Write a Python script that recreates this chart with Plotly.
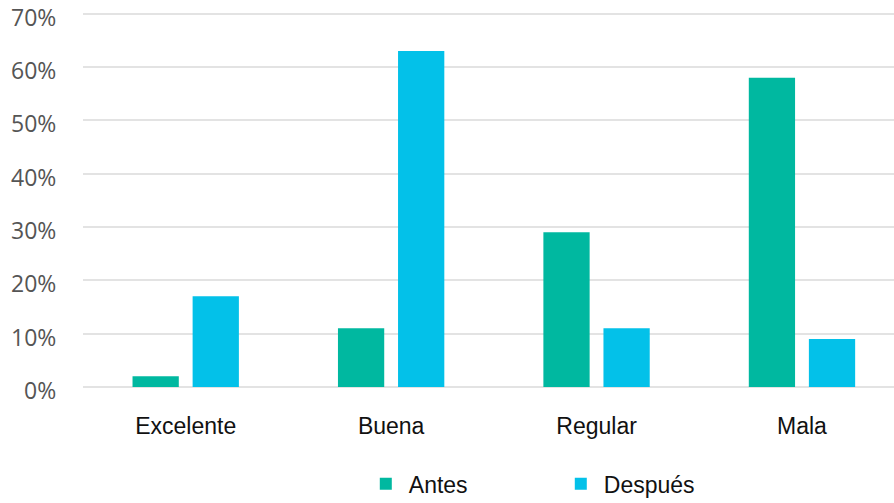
import plotly.graph_objects as go

# Calificación antes y después (porcentaje de respuestas)
categorias = ["Excelente", "Buena", "Regular", "Mala"]
antes = [2, 11, 29, 58]
despues = [17, 63, 11, 9]
ticks_y = [0, 10, 20, 30, 40, 50, 60, 70]
etiquetas_y = [f"{v}%" for v in ticks_y]

COLOR_ANTES = "#00B8A0"
COLOR_DESPUES = "#03C1E9"

fig = go.Figure()
fig.add_trace(go.Bar(name="Antes", x=categorias, y=antes,
                     marker=dict(color=COLOR_ANTES, line=dict(width=0))))
fig.add_trace(go.Bar(name="Después", x=categorias, y=despues,
                     marker=dict(color=COLOR_DESPUES, line=dict(width=0))))

fig.update_layout(
    width=894, height=503,
    margin=dict(l=83, r=0, t=11, b=116, autoexpand=False),
    paper_bgcolor="white", plot_bgcolor="white",
    barmode="group", bargap=0.415, bargroupgap=0.23,
    showlegend=True,
    legend=dict(
        orientation="h", x=0.345, xanchor="left", y=-0.2, yanchor="top",
        font=dict(family="Liberation Sans, Arial, sans-serif", size=23, color="#111111"),
        entrywidth=144, itemwidth=36, traceorder="normal",
    ),
    font=dict(family="Liberation Sans, Arial, sans-serif"),
)

fig.update_xaxes(
    range=[-0.5, 3.448], showgrid=False, showline=False, ticks="",
    tickfont=dict(family="Liberation Sans, Arial, sans-serif", size=23, color="#111111"),
    ticklabelstandoff=23,
)
# Gridlines from the axis; percentage labels sit slightly below each gridline
fig.update_yaxes(
    range=[0, 70.5], tickvals=ticks_y, showticklabels=False,
    showgrid=True, gridcolor="#E3E3E3", gridwidth=1.5,
    zeroline=True, zerolinecolor="#E3E3E3", zerolinewidth=1.5,
    showline=False, ticks="",
)
for v, txt in zip(ticks_y, etiquetas_y):
    fig.add_annotation(
        x=0, xref="paper", y=v, yref="y", text=txt, showarrow=False,
        xanchor="right", yanchor="middle", xshift=-25, yshift=-3,
        font=dict(family="Open Sans, sans-serif", size=23, color="#555555"),
    )

fig.write_html("out.html")
